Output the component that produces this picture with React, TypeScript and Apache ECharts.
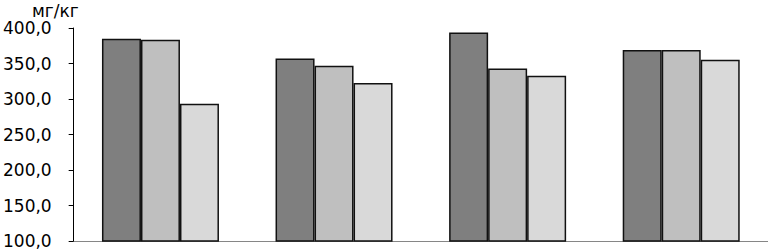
import React, { useEffect, useRef } from "react";
import * as echarts from "echarts";

const categories = ["1", "2", "3", "4"];
const series1 = [384.9, 357.0, 393.8, 368.9];
const series2 = [383.5, 346.7, 342.9, 368.9];
const series3 = [293.4, 322.7, 332.6, 355.2];
const seriesNames = ["Ряд 1", "Ряд 2", "Ряд 3"];
const unitLabel = "мг/кг";

const colors = ["#7f7f7f", "#bfbfbf", "#d9d9d9"];

export default function App() {
  const ref = useRef<HTMLDivElement>(null);
  useEffect(() => {
    if (!ref.current) return;
    const chart = echarts.init(ref.current, undefined, { renderer: "svg" });
    const mk = (name: string, data: number[], color: string) => ({
      name,
      type: "bar",
      data,
      barWidth: 39,
      barGap: "0%",
      itemStyle: { color, borderColor: "#111", borderWidth: 1.5 },
    });
    chart.setOption({
      animation: false,
      grid: { left: 72, right: 0, top: 28, bottom: 10, containLabel: false },
      xAxis: {
        type: "category",
        data: categories,
        axisLine: { show: true, lineStyle: { color: "#868686", width: 1 } },
        axisTick: { show: false },
        axisLabel: { show: false },
      },
      yAxis: {
        type: "value",
        min: 100,
        max: 400,
        interval: 50,
        axisLine: { show: true, lineStyle: { color: "#000", width: 1 } },
        axisTick: { show: true, length: 5, lineStyle: { color: "#000" } },
        splitLine: { show: false },
        axisLabel: {
          margin: 22,
          fontFamily: "DejaVu Sans",
          fontSize: 17,
          color: "#000",
          formatter: (v: number) => v.toFixed(1).replace(".", ","),
        },
      },
      graphic: [
        {
          type: "text",
          x: 32,
          y: 11,
          style: {
            text: unitLabel,
            fontFamily: "DejaVu Sans",
            fontSize: 17,
            fill: "#000",
            verticalAlign: "middle",
          },
        },
      ],
      series: [
        mk(seriesNames[0], series1, colors[0]),
        mk(seriesNames[1], series2, colors[1]),
        mk(seriesNames[2], series3, colors[2]),
      ],
    });
    return () => chart.dispose();
  }, []);
  return <div ref={ref} style={{ width: 768, height: 251, position: "absolute", left: 0, top: 0 }} />;
}
